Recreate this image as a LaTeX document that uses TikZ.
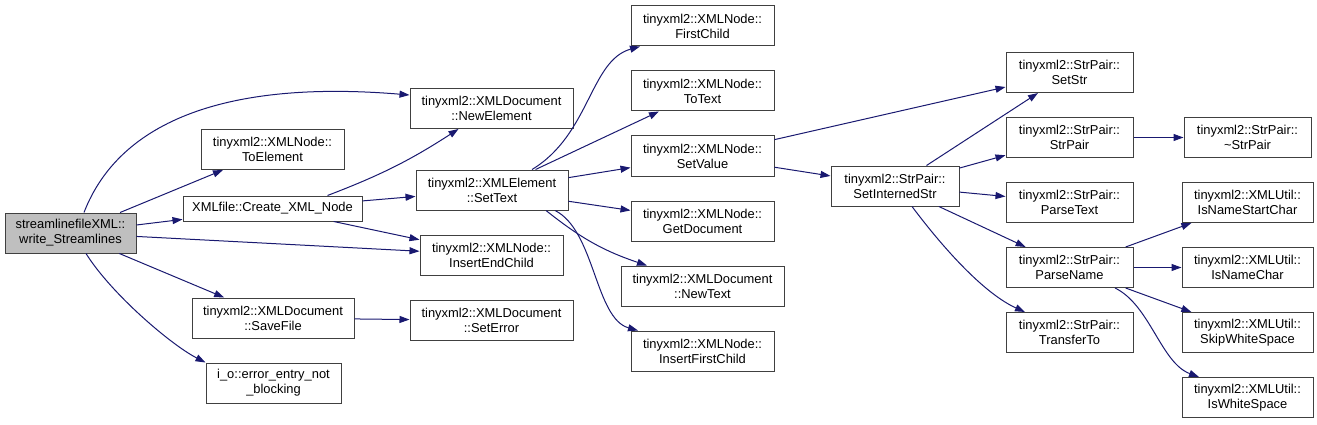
\documentclass[tikz,border=0pt]{standalone}
\usepackage{fontspec}
\setmainfont{Liberation Sans}
\usepackage{xcolor}
\usetikzlibrary{arrows.meta,positioning}

\definecolor{edgeblue}{HTML}{191970}
\definecolor{rootgray}{HTML}{BFBFBF}

\begin{document}
\begin{tikzpicture}[x=1pt, y=1pt, node distance=24pt,
    every node/.style={font=\fontsize{12.9}{15}\selectfont},
    fn/.style={draw=black!75, line width=1pt, fill=white, minimum height=40pt, inner sep=0pt, align=center},
    edge/.style={draw=edgeblue, line width=1pt, -{Triangle[length=10pt,width=7pt]}}]
    \useasboundingbox (0,0) rectangle (1317,-425);

    % caller and first level
    \node[fn, fill=rootgray, minimum width=131pt] (root) at (70.5,-233) {streamlinefileXML::\\write\_Streamlines};
    \node[fn, minimum width=143pt] (toelem) at (272.5,-149.5) {tinyxml2::XMLNode::\\ToElement};
    \node[fn, minimum width=179pt, minimum height=25pt] (create) at (272.5,-208.5) {XMLfile::Create\_XML\_Node};
    \node[fn, minimum width=162pt] (savefile) at (273,-318) {tinyxml2::XMLDocument\\::SaveFile};
    \node[fn, minimum width=135pt] (errentry) at (273.5,-383) {i\_o::error\_entry\_not\\\_blocking};

    % second level
    \node[fn, minimum width=163pt] (newelem) at (491.5,-108.5) {tinyxml2::XMLDocument\\::NewElement};
    \node[fn, minimum width=152pt] (settext) at (492,-190) {tinyxml2::XMLElement\\::SetText};
    \node[fn, minimum width=143pt] (insend) at (491.5,-255) {tinyxml2::XMLNode::\\InsertEndChild};
    \node[fn, minimum width=163pt] (seterror) at (491.5,-320.5) {tinyxml2::XMLDocument\\::SetError};

    % third level
    \node[fn, minimum width=143pt] (firstchild) at (702.5,-26) {tinyxml2::XMLNode::\\FirstChild};
    \node[fn, minimum width=143pt, below=of firstchild] (totext) {tinyxml2::XMLNode::\\ToText};
    \node[fn, minimum width=143pt, below=of totext] (setvalue) {tinyxml2::XMLNode::\\SetValue};
    \node[fn, minimum width=143pt, below=of setvalue] (getdoc) {tinyxml2::XMLNode::\\GetDocument};
    \node[fn, minimum width=163pt, below=of getdoc] (newtext) {tinyxml2::XMLDocument\\::NewText};
    \node[fn, minimum width=143pt, below=of newtext] (insfirst) {tinyxml2::XMLNode::\\InsertFirstChild};

    % string pair
    \node[fn, minimum width=128pt] (interned) at (895,-186) {tinyxml2::StrPair::\\SetInternedStr};
    \node[fn, minimum width=127pt] (setstr) at (1069.5,-72.5) {tinyxml2::StrPair::\\SetStr};
    \node[fn, minimum width=127pt, below=of setstr] (strpair) {tinyxml2::StrPair::\\StrPair};
    \node[fn, minimum width=127pt, below=of strpair] (parsetext) {tinyxml2::StrPair::\\ParseText};
    \node[fn, minimum width=127pt, below=of parsetext] (parsename) {tinyxml2::StrPair::\\ParseName};
    \node[fn, minimum width=127pt, below=of parsename] (transfer) {tinyxml2::StrPair::\\TransferTo};

    % utilities
    \node[fn, minimum width=127pt, right=50pt of strpair] (dtor) {tinyxml2::StrPair::\\\textasciitilde StrPair};
    \node[fn, minimum width=131pt, below=of dtor] (namestart) {tinyxml2::XMLUtil::\\IsNameStartChar};
    \node[fn, minimum width=131pt, below=of namestart] (namechar) {tinyxml2::XMLUtil::\\IsNameChar};
    \node[fn, minimum width=131pt, below=of namechar] (skipws) {tinyxml2::XMLUtil::\\SkipWhiteSpace};
    \node[fn, minimum width=131pt, below=of skipws] (isws) {tinyxml2::XMLUtil::\\IsWhiteSpace};

    \draw[edge] ([xshift=13.5pt]root.north) .. controls +(36,93) and +(-180,15) .. ([yshift=13.5pt]newelem.west);
    \draw[edge] (root) -- (toelem);
    \draw[edge] (root) -- (create);
    \draw[edge] (root) -- (insend);
    \draw[edge] (root) -- (savefile);
    \draw[edge] ([xshift=15.5pt]root.south) .. controls +(25,-40) and +(-35,18) .. (errentry.north west);

    \draw[edge] ([xshift=55pt]create.north) to[bend right=6] ([xshift=-33pt]newelem.south);
    \draw[edge] (create) -- (settext);
    \draw[edge] (create) -- (insend);
    \draw[edge] (savefile) -- (seterror);

    \draw[edge] ([xshift=40pt]settext.north) .. controls +(58,35) and +(-50,-14) .. ([xshift=-62.5pt]firstchild.south);
    \draw[edge] (settext) -- (totext);
    \draw[edge] (settext) -- (setvalue);
    \draw[edge] (settext) -- (getdoc);
    \draw[edge] ([xshift=54pt]settext.south) to[bend right=10] ([xshift=-55.5pt]newtext.north);
    \draw[edge] ([xshift=63pt]settext.south) .. controls +(40,-20) and +(-43,12) .. ([xshift=-64.5pt]insfirst.north);

    \draw[edge] (setvalue) -- (setstr);
    \draw[edge] (setvalue) -- (interned);

    \draw[edge] (interned) -- (setstr);
    \draw[edge] (interned) -- (strpair);
    \draw[edge] (interned) -- (parsetext);
    \draw[edge] (interned) -- (parsename);
    \draw[edge] ([xshift=17pt]interned.south) .. controls +(33,-44) and +(-40,18) .. ([xshift=-44.5pt]transfer.north);

    \draw[edge] (strpair) -- (dtor);
    \draw[edge] (parsename) -- (namestart);
    \draw[edge] (parsename) -- (namechar);
    \draw[edge] (parsename) -- (skipws);
    \draw[edge] ([xshift=45.5pt]parsename.south) .. controls +(35,-17) and +(-38,14) .. ([xshift=-48.5pt]isws.north);
\end{tikzpicture}
\end{document}
